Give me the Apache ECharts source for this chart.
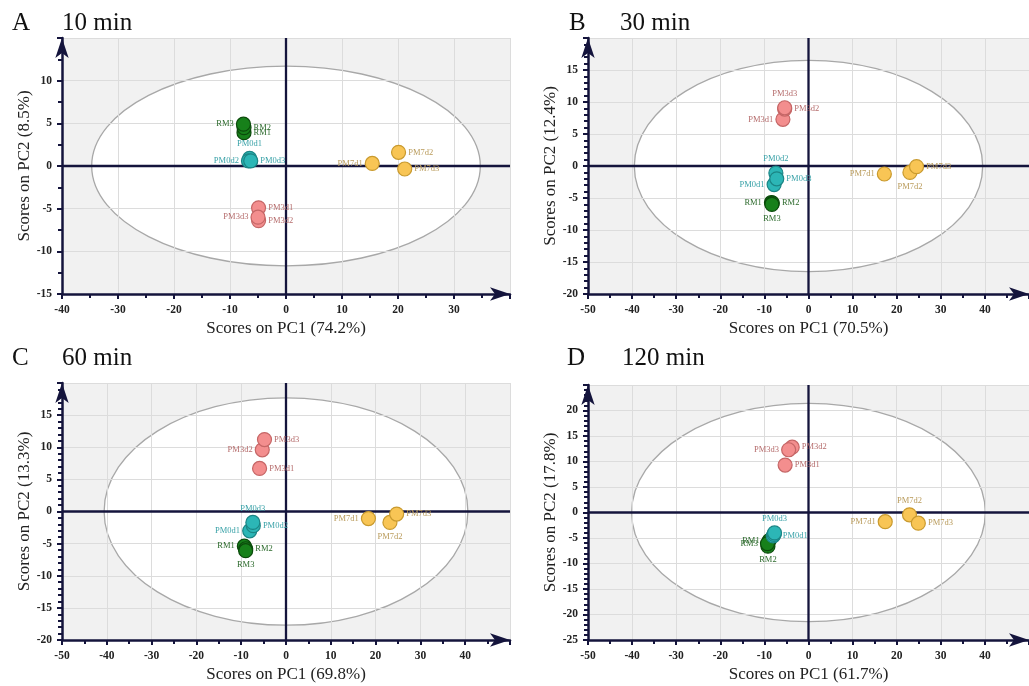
<!DOCTYPE html>
<html>
<head>
<meta charset="utf-8">
<script src="https://cdn.jsdelivr.net/npm/echarts@6/dist/echarts.min.js"></script>
<style>
html,body{margin:0;padding:0;background:#fff;}
#chart{width:1029px;height:686px;}
</style>
</head>
<body>
<div id="chart"></div>
<script>
// ---------- data ----------
const panelLetters = ['A', 'B', 'C', 'D'];
const panelTimes = ['10 min', '30 min', '60 min', '120 min'];
const pc1Names = ['Scores on PC1 (74.2%)', 'Scores on PC1 (70.5%)', 'Scores on PC1 (69.8%)', 'Scores on PC1 (61.7%)'];
const pc2Names = ['Scores on PC2 (8.5%)', 'Scores on PC2 (12.4%)', 'Scores on PC2 (13.3%)', 'Scores on PC2 (17.8%)'];
const xRanges = [[-40, 40], [-50, 50], [-50, 50], [-50, 50]];
const yRanges = [[-15, 15], [-20, 20], [-20, 20], [-25, 25]];
const ellipseSemiAxes = [[34.7, 11.7], [39.5, 16.5], [40.6, 17.7], [40.1, 21.4]];
const groups = ['RM', 'PM0d', 'PM3d', 'PM7d'];

// [PC1, PC2, sample]
const A_RM   = [[-7.5, 3.9, 'RM1'], [-7.5, 4.5, 'RM2'], [-7.6, 4.9, 'RM3']];
const A_PM0d = [[-6.5, 0.9, 'PM0d1'], [-6.7, 0.6, 'PM0d2'], [-6.3, 0.6, 'PM0d3']];
const A_PM3d = [[-4.9, -4.9, 'PM3d1'], [-4.9, -6.4, 'PM3d2'], [-5.0, -6.0, 'PM3d3']];
const A_PM7d = [[15.4, 0.3, 'PM7d1'], [20.1, 1.6, 'PM7d2'], [21.2, -0.35, 'PM7d3']];

const B_RM   = [[-8.4, -5.7, 'RM1'], [-8.2, -5.8, 'RM2'], [-8.3, -6.0, 'RM3']];
const B_PM0d = [[-7.8, -2.9, 'PM0d1'], [-7.4, -1.1, 'PM0d2'], [-7.2, -2.0, 'PM0d3']];
const B_PM3d = [[-5.8, 7.3, 'PM3d1'], [-5.4, 8.9, 'PM3d2'], [-5.4, 9.1, 'PM3d3']];
const B_PM7d = [[17.2, -1.25, 'PM7d1'], [23.0, -1.0, 'PM7d2'], [24.5, -0.1, 'PM7d3']];

const C_RM   = [[-9.3, -5.4, 'RM1'], [-9.0, -5.8, 'RM2'], [-9.0, -6.1, 'RM3']];
const C_PM0d = [[-8.1, -3.0, 'PM0d1'], [-7.3, -2.2, 'PM0d2'], [-7.4, -1.7, 'PM0d3']];
const C_PM3d = [[-5.9, 6.7, 'PM3d1'], [-5.3, 9.6, 'PM3d2'], [-4.8, 11.2, 'PM3d3']];
const C_PM7d = [[18.4, -1.1, 'PM7d1'], [23.2, -1.7, 'PM7d2'], [24.7, -0.4, 'PM7d3']];

const D_RM   = [[-8.9, -5.5, 'RM1'], [-9.2, -6.6, 'RM2'], [-9.3, -6.1, 'RM3']];
const D_PM0d = [[-8.0, -4.6, 'PM0d1'], [-7.8, -4.3, 'PM0d2'], [-7.7, -4.0, 'PM0d3']];
const D_PM3d = [[-5.3, 9.3, 'PM3d1'], [-3.7, 12.8, 'PM3d2'], [-4.5, 12.3, 'PM3d3']];
const D_PM7d = [[17.4, -1.8, 'PM7d1'], [22.9, -0.45, 'PM7d2'], [24.9, -2.1, 'PM7d3']];

const panelData = [
  [A_RM, A_PM0d, A_PM3d, A_PM7d],
  [B_RM, B_PM0d, B_PM3d, B_PM7d],
  [C_RM, C_PM0d, C_PM3d, C_PM7d],
  [D_RM, D_PM0d, D_PM3d, D_PM7d]
];

// ---------- style ----------
const labelSides = [
  { RM1: 'right', RM2: 'right', RM3: 'left', PM0d1: 'top', PM0d2: 'left', PM0d3: 'right',
    PM3d1: 'right', PM3d2: 'right', PM3d3: 'left', PM7d1: 'left', PM7d2: 'right', PM7d3: 'right' },
  { RM1: 'left', RM2: 'right', RM3: 'bottom', PM0d1: 'left', PM0d2: 'top', PM0d3: 'right',
    PM3d1: 'left', PM3d2: 'right', PM3d3: 'top', PM7d1: 'left', PM7d2: 'bottom', PM7d3: 'right' },
  { RM1: 'left', RM2: 'right', RM3: 'bottom', PM0d1: 'left', PM0d2: 'right', PM0d3: 'top',
    PM3d1: 'right', PM3d2: 'left', PM3d3: 'right', PM7d1: 'left', PM7d2: 'bottom', PM7d3: 'right' },
  { RM1: 'left', RM2: 'bottom', RM3: 'left', PM0d1: 'right', PM0d2: null, PM0d3: 'top',
    PM3d1: 'right', PM3d2: 'right', PM3d3: 'left', PM7d1: 'left', PM7d2: 'top', PM7d3: 'right' }
];
const groupFill   = { RM: '#17801a', PM0d: '#2cb6b6', PM3d: '#f38e8e', PM7d: '#f8c555' };
const groupBorder = { RM: '#0b4a0b', PM0d: '#1b8585', PM3d: '#c56666', PM7d: '#c99a2e' };
const groupLabel  = { RM: '#2c6a2c', PM0d: '#3aa2a8', PM3d: '#b56c6c', PM7d: '#b99b5b' };
const grids = [
  { left: 62, top: 38, width: 448, height: 256 },
  { left: 588, top: 38, width: 448, height: 256 },
  { left: 62, top: 383, width: 448, height: 257 },
  { left: 588, top: 385, width: 448, height: 255 }
];
const titlePos = [
  [[12, 11], [62, 11]], [[569, 11], [620, 11]], [[12, 346], [62, 346]], [[567, 346], [622, 346]]
];
const ySplit = [2, 5, 5, 5];
const SERIF = '"Liberation Serif", "DejaVu Serif", serif';
const AXIS_COLOR = '#14143c';

const option = { animation: false, backgroundColor: '#ffffff', title: [], grid: [], xAxis: [], yAxis: [], series: [] };

for (let p = 0; p < 4; p++) {
  option.title.push({ text: panelLetters[p], left: titlePos[p][0][0], top: titlePos[p][0][1], padding: 0,
    textStyle: { fontFamily: SERIF, fontSize: 25, fontWeight: 'normal', color: '#111' } });
  option.title.push({ text: panelTimes[p], left: titlePos[p][1][0], top: titlePos[p][1][1], padding: 0,
    textStyle: { fontFamily: SERIF, fontSize: 25, fontWeight: 'normal', color: '#111' } });
  option.grid.push(Object.assign({ containLabel: false }, grids[p]));
  const axisCommon = {
    axisLine: { show: true, onZero: false, symbol: ['none', 'arrow'], symbolSize: [10, 20],
      lineStyle: { color: AXIS_COLOR, width: 2.5 } },
    axisTick: { show: true, length: 5, lineStyle: { color: AXIS_COLOR, width: 2 } },
    axisLabel: { showMaxLabel: false, fontFamily: SERIF, fontWeight: 'bold', fontSize: 11.5, color: '#222', margin: 10 },
    splitLine: { show: true, lineStyle: { color: '#dcdcdc', width: 1 } },
    nameLocation: 'middle', nameGap: 26,
    nameTextStyle: { fontFamily: SERIF, fontSize: 17, color: '#222' }
  };
  option.xAxis.push(Object.assign({}, axisCommon, {
    type: 'value', gridIndex: p, min: xRanges[p][0], max: xRanges[p][1], interval: 10,
    name: pc1Names[p],
    minorTick: { show: true, splitNumber: 2, length: 4, lineStyle: { color: AXIS_COLOR, width: 2 } }
  }));
  option.yAxis.push(Object.assign({}, axisCommon, {
    type: 'value', gridIndex: p, min: yRanges[p][0], max: yRanges[p][1], interval: 5,
    name: pc2Names[p], nameGap: 18,
    minorTick: { show: true, splitNumber: ySplit[p], length: 4, lineStyle: { color: AXIS_COLOR, width: 2 } }
  }));

  // background + confidence ellipse (below grid lines)
  const semi = ellipseSemiAxes[p];
  option.series.push({
    type: 'custom', xAxisIndex: p, yAxisIndex: p, z: -1, silent: true,
    data: [[0, 0]],
    renderItem: function (params, api) {
      const cs = params.coordSys;
      const c = api.coord([api.value(0), api.value(1)]);
      const s = api.size([semi[0], semi[1]]);
      return { type: 'group', children: [
        { type: 'rect', shape: { x: cs.x, y: cs.y, width: cs.width, height: cs.height }, style: { fill: '#f1f1f1' } },
        { type: 'ellipse', shape: { cx: c[0], cy: c[1], rx: s[0], ry: s[1] },
          style: { fill: '#ffffff', stroke: '#a8a8a8', lineWidth: 1.3 } }
      ] };
    }
  });
  // zero cross lines
  option.series.push({
    type: 'custom', xAxisIndex: p, yAxisIndex: p, z: 1, silent: true,
    data: [[0, 0]],
    renderItem: function (params, api) {
      const cs = params.coordSys;
      const c = api.coord([api.value(0), api.value(1)]);
      const st = { stroke: AXIS_COLOR, lineWidth: 2.3 };
      return { type: 'group', children: [
        { type: 'line', shape: { x1: cs.x, y1: c[1], x2: cs.x + cs.width, y2: c[1] }, style: st },
        { type: 'line', shape: { x1: c[0], y1: cs.y, x2: c[0], y2: cs.y + cs.height }, style: st }
      ] };
    }
  });
  // scatter groups
  groups.forEach(function (g, gi) {
    const pts = panelData[p][gi];
    option.series.push({
      type: 'scatter', name: g, xAxisIndex: p, yAxisIndex: p, z: 3,
      symbol: 'circle', symbolSize: 14,
      itemStyle: { color: groupFill[g], borderColor: groupBorder[g], borderWidth: 1.2, opacity: 1 },
      data: pts.map(function (d) {
        const side = labelSides[p][d[2]];
        return {
          value: [d[0], d[1]], name: d[2],
          label: {
            show: !!side, position: side || 'right', distance: 2,
            formatter: d[2], fontFamily: SERIF, fontSize: 8.5, color: groupLabel[g]
          }
        };
      })
    });
  });
}

const chart = echarts.init(document.getElementById('chart'), null, { renderer: 'canvas' });
chart.setOption(option);
</script>
</body>
</html>
